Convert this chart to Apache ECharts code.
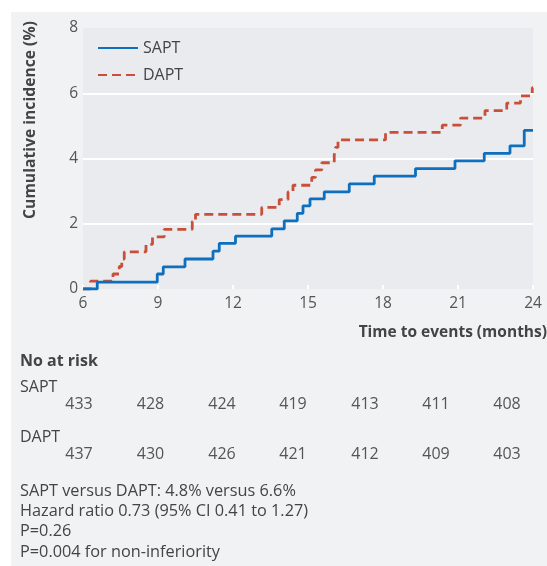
<!DOCTYPE html>
<html>
<head>
<meta charset="utf-8">
<script src="https://cdn.jsdelivr.net/npm/echarts@6/dist/echarts.min.js"></script>
<style>
html,body{margin:0;padding:0;background:#ffffff;}
#c{position:absolute;left:11px;top:12px;width:536px;height:554px;}
</style>
</head>
<body>
<div id="c"></div>
<script>
// ---- data ----
const saptX = [6, 6.57, 8.97, 9.21, 10.08, 11.2, 11.45, 12.1, 13.55, 14.05, 14.57, 14.8, 15.08, 15.65, 16.65, 17.65, 19.3, 20.88, 22.05, 23.08, 23.65, 24];
const saptY = [0, 0.21, 0.46, 0.68, 0.92, 1.16, 1.4, 1.62, 1.84, 2.09, 2.32, 2.55, 2.76, 2.98, 3.22, 3.46, 3.69, 3.93, 4.16, 4.39, 4.86, 4.86];
const daptX = [6, 6.3, 7.2, 7.45, 7.55, 7.65, 8.52, 8.78, 9.25, 10.37, 10.5, 13.15, 13.85, 14.2, 14.4, 15.15, 15.3, 15.55, 16.05, 16.1, 16.2, 18.1, 20.37, 21.1, 22.08, 22.95, 23.5, 23.97, 24];
const daptY = [0, 0.24, 0.46, 0.69, 0.92, 1.14, 1.37, 1.6, 1.83, 2.07, 2.29, 2.5, 2.74, 2.98, 3.18, 3.42, 3.65, 3.87, 4.1, 4.34, 4.57, 4.8, 5.02, 5.24, 5.47, 5.7, 5.92, 6.17, 6.17];
const xTicks = [6, 9, 12, 15, 18, 21, 24];
const riskSapt = [433, 428, 424, 419, 413, 411, 408];
const riskDapt = [437, 430, 426, 421, 412, 409, 403];
const statsLines = [
  'SAPT versus DAPT: 4.8% versus 6.6%',
  'Hazard ratio 0.73 (95% CI 0.41 to 1.27)',
  'P=0.26',
  'P=0.004 for non-inferiority'
];

const OX = 11, OY = 12; // div offset
const FONT = "'Open Sans', 'Noto Sans', sans-serif";
const TXT = '#444';
const riskCols = [79, 150.5, 222, 293, 365, 436, 507];

const graphics = [];
graphics.push({type:'text', x: 31 - OX, y: 120 - OY, rotation: Math.PI/2,
  style:{text:'Cumulative incidence (%)', font: 'bold 15.7px ' + FONT, fill: TXT, textAlign:'center', textVerticalAlign:'middle'}});
graphics.push({type:'text', x: 547 - OX, y: 333 - OY,
  style:{text:'Time to events (months)', font: 'bold 15.5px ' + FONT, fill: TXT, textAlign:'right', textVerticalAlign:'middle'}});
graphics.push({type:'text', x: 20 - OX, y: 361 - OY,
  style:{text:'No at risk', font: 'bold 16px ' + FONT, fill: TXT, textAlign:'left', textVerticalAlign:'middle'}});
graphics.push({type:'text', x: 20 - OX, y: 387 - OY,
  style:{text:'SAPT', font: '16px ' + FONT, fill: TXT, textAlign:'left', textVerticalAlign:'middle'}});
graphics.push({type:'text', x: 20 - OX, y: 437 - OY,
  style:{text:'DAPT', font: '16px ' + FONT, fill: TXT, textAlign:'left', textVerticalAlign:'middle'}});
riskSapt.forEach((v,i)=>graphics.push({type:'text', x: riskCols[i] - OX, y: 404 - OY,
  style:{text:String(v), font: '16px ' + FONT, fill: '#555', textAlign:'center', textVerticalAlign:'middle'}}));
riskDapt.forEach((v,i)=>graphics.push({type:'text', x: riskCols[i] - OX, y: 454 - OY,
  style:{text:String(v), font: '16px ' + FONT, fill: '#555', textAlign:'center', textVerticalAlign:'middle'}}));
statsLines.forEach((s,i)=>graphics.push({type:'text', x: 20 - OX, y: 491 + i*20.3 - OY,
  style:{text:s, font: '16.3px ' + FONT, fill: TXT, textAlign:'left', textVerticalAlign:'middle'}}));

const chart = echarts.init(document.getElementById('c'));
chart.setOption({
  backgroundColor: '#f1f2f4',
  animation: false,
  textStyle: {fontFamily: FONT},
  grid: {left: 83 - OX, top: 28 - OY, right: 14, bottom: 277, show: true, backgroundColor: '#eaebee', borderWidth: 0, containLabel: false},
  legend: {
    orient: 'vertical', left: 97 - OX, top: 40 - OY, itemWidth: 40, itemHeight: 14, itemGap: 11, padding: 0,
    data: ['SAPT', 'DAPT'],
    itemStyle: {opacity: 0},
    textStyle: {fontSize: 16, color: TXT, fontFamily: FONT}
  },
  xAxis: {
    type: 'value', min: 6, max: 24, interval: 3,
    axisLine: {show: false},
    axisTick: {show: true, inside: true, length: 4, lineStyle: {color: '#ffffff', width: 2}},
    axisLabel: {fontSize: 15.5, color: '#555', margin: 7, fontFamily: FONT,
      formatter: v => xTicks.includes(v) ? String(v) : ''},
    splitLine: {show: false}
  },
  yAxis: {
    type: 'value', min: 0, max: 8, interval: 2,
    axisLine: {show: false}, axisTick: {show: false},
    axisLabel: {fontSize: 15.5, color: '#555', margin: 5, fontFamily: FONT},
    splitLine: {show: true, lineStyle: {color: ['rgba(0,0,0,0)', '#ffffff', '#ffffff', '#ffffff', 'rgba(0,0,0,0)'], width: 2}}
  },
  series: [
    {name: 'SAPT', type: 'line', step: 'end', symbol: 'none',
      data: saptX.map((x,i)=>[x, saptY[i]]),
      lineStyle: {color: '#0d6fbd', width: 2.8}, itemStyle: {color: '#0d6fbd'}, z: 3},
    {name: 'DAPT', type: 'line', step: 'end', symbol: 'none',
      data: daptX.map((x,i)=>[x, daptY[i]]),
      lineStyle: {color: '#c8503a', width: 2.8, type: [9, 5]}, itemStyle: {color: '#c8503a'}, z: 2}
  ],
  graphic: graphics
});
</script>
</body>
</html>
